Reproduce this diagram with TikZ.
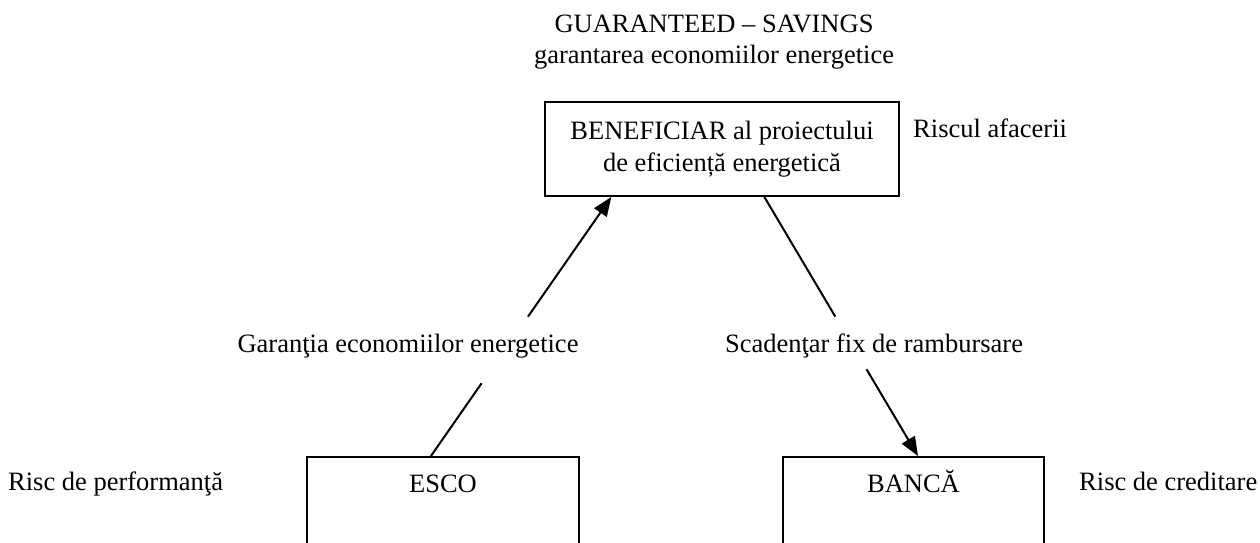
\documentclass[tikz,border=0pt]{standalone}
\usepackage{fontspec}
\setmainfont{Liberation Serif}
\usetikzlibrary{arrows.meta,calc}
\begin{document}
\begin{tikzpicture}[x=1pt,y=-1pt,
  font=\fontsize{26.5}{32}\selectfont,
  box/.style={draw, line width=2pt, inner sep=0pt},
  link/.style={line width=2pt},
  tip/.style={-{Triangle[length=19pt,width=15pt]}},
  txt/.style={inner sep=0pt, anchor=base}]
\useasboundingbox (0,0) rectangle (1260,542);
\begin{scope}
\clip (0,0) rectangle (1260,542);

% title
\node[txt] (title) at (714,32) {GUARANTEED – SAVINGS};
\node[txt] (subtitle) at (714,63) {garantarea economiilor energetice};

% beneficiary box
\node[box, minimum width=354, minimum height=94, align=center] (benef) at (722,149)
  {BENEFICIAR al proiectului\\de eficiență energetică};
\node[txt, anchor=base west] (rbenef) at (913,137) {Riscul afacerii};

% lower boxes (running past the bottom edge)
\node[box, minimum width=272, minimum height=130, anchor=north] (esco) at (443,456) {};
\node[txt] (escot) at ($(esco.north)+(0,36)$) {ESCO};
\node[box, minimum width=261, minimum height=130, anchor=north] (banca) at (913.5,456) {};
\node[txt] (bancat) at ($(banca.north)+(0,36)$) {BANCĂ};

\node[txt, anchor=base west] (resco) at (8,490) {Risc de performanţă};
\node[txt, anchor=base west] (rbanca) at (1079,490) {Risc de creditare};

% connector end points
\coordinate (a0) at ($(esco.north west)!0.456!(esco.north east)$);
\coordinate (a1) at ($(benef.south west)!0.189!(benef.south east)$);
\coordinate (b0) at ($(benef.south west)!0.619!(benef.south east)$);
\coordinate (b1) at ($(banca.north west)!0.517!(banca.north east)$);

% ESCO -> beneficiary, broken by its label
\draw[link] (a0) -- ($(a0)!0.281!(a1)$);
\draw[link, tip] ($(a0)!0.538!(a1)$) -- (a1);
\node[txt] (la) at (408,352) {Garanţia economiilor energetice};

% beneficiary -> bank, broken by its label
\draw[link] (b0) -- ($(b0)!0.4615!(b1)$);
\draw[link, tip] ($(b0)!0.665!(b1)$) -- (b1);
\node[txt] (lb) at (874,352) {Scadenţar fix de rambursare};
\end{scope}
\end{tikzpicture}
\end{document}
